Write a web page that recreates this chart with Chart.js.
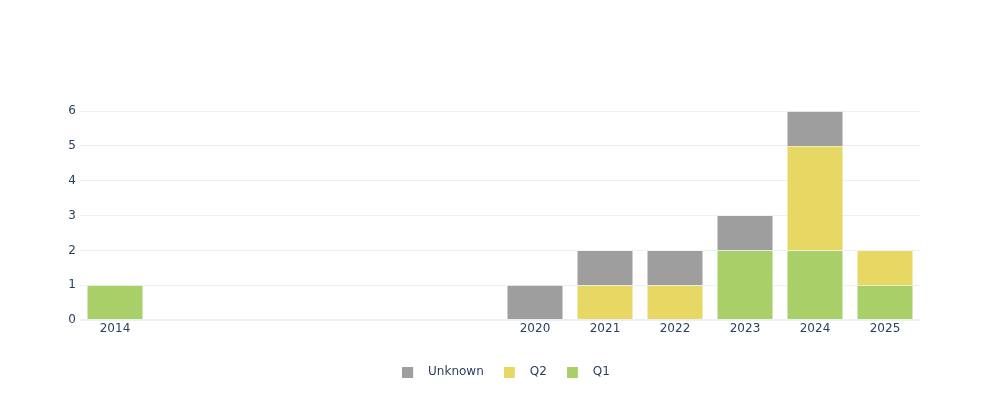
<!DOCTYPE html>
<html>
<head>
<meta charset="utf-8">
<script src="https://cdn.jsdelivr.net/npm/chart.js@4"></script>
<style>
  html, body { margin: 0; padding: 0; background: #fff; }
  #wrap { width: 1000px; height: 400px; }
</style>
</head>
<body>
<div id="wrap"><canvas id="yearChart"></canvas></div>
<script>
"use strict";
const years = [2014, 2020, 2021, 2022, 2023, 2024, 2025];
const q1Vals = [1, 0, 0, 0, 2, 2, 1];
const q2Vals = [0, 0, 1, 1, 0, 3, 1];
const unknownVals = [0, 1, 1, 1, 1, 1, 0];
const yTicks = [0, 1, 2, 3, 4, 5, 6];

const colors = ['#a8cf68', '#e6d862', '#9e9e9e'];

const toPoints = vals => years.map((yr, i) => ({ x: yr, y: vals[i] > 0 ? vals[i] : null }));

// legend swatch: 11px square with empty room after it, so the text sits further right
const swatch = color => {
    const c = document.createElement('canvas');
    c.width = 20;
    c.height = 11;
    const g = c.getContext('2d');
    g.fillStyle = color;
    g.fillRect(0, 0, 11, 11);
    return c;
};
const swatches = colors.map(swatch);

const tickFont = { family: "'DejaVu Sans', Verdana, sans-serif", size: 12 };
const tickColor = '#2a3f5f';

new Chart(document.getElementById('yearChart'), {
    type: 'bar',
    data: {
        datasets: [
            { label: 'Q1', data: toPoints(q1Vals), backgroundColor: colors[0], borderColor: '#ffffff', borderWidth: 0.5 },
            { label: 'Q2', data: toPoints(q2Vals), backgroundColor: colors[1], borderColor: '#ffffff', borderWidth: 0.5 },
            { label: 'Unknown', data: toPoints(unknownVals), backgroundColor: colors[2], borderColor: '#ffffff', borderWidth: 0.5 }
        ]
    },
    options: {
        responsive: true,
        maintainAspectRatio: false,
        animation: false,
        datasets: { bar: { barPercentage: 0.8, categoryPercentage: 1 } },
        layout: { padding: { left: 12, right: 0, top: 100, bottom: 12 } },
        plugins: {
            tooltip: { enabled: false },
            legend: {
                position: 'bottom',
                reverse: true,
                labels: {
                    usePointStyle: true,
                    pointStyleWidth: 20,
                    boxHeight: 11,
                    padding: 20,
                    color: tickColor,
                    font: tickFont,
                    generateLabels: chart => {
                        const items = Chart.defaults.plugins.legend.labels.generateLabels(chart);
                        items.forEach(it => { it.pointStyle = swatches[it.datasetIndex]; });
                        return items;
                    }
                }
            }
        },
        scales: {
            x: {
                type: 'linear',
                stacked: true,
                min: 2013.5,
                max: 2025.5,
                offset: false,
                grid: { display: false, drawTicks: false },
                border: { display: false },
                afterBuildTicks: scale => { scale.ticks = years.map(v => ({ value: v })); },
                afterFit: scale => { scale.height = 26; },
                ticks: {
                    autoSkip: false,
                    maxRotation: 0,
                    padding: 2,
                    color: tickColor,
                    font: tickFont,
                    callback: v => String(v)
                }
            },
            y: {
                stacked: true,
                min: 0,
                max: 6.32,
                grid: {
                    color: '#ebf0f8',
                    lineWidth: ctx => (ctx.tick && ctx.tick.value === 0 ? 2 : 1),
                    drawTicks: false
                },
                border: { display: false },
                afterBuildTicks: scale => { scale.ticks = yTicks.map(v => ({ value: v })); },
                afterFit: scale => { scale.width = 68; },
                ticks: {
                    padding: 4,
                    color: tickColor,
                    font: tickFont
                }
            },
            yRight: {
                position: 'right',
                grid: { display: false, drawTicks: false },
                border: { display: false },
                ticks: { display: false },
                afterFit: scale => { scale.width = 80; }
            }
        }
    }
});
</script>
</body>
</html>
